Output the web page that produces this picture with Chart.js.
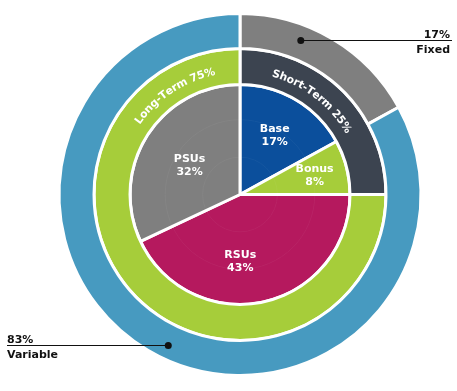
<!DOCTYPE html>
<html>
<head>
<meta charset="utf-8">
<script src="https://cdn.jsdelivr.net/npm/chart.js@4.4.0/dist/chart.umd.min.js"></script>
<style>
  body { margin: 0; background: #fff; }
</style>
</head>
<body>
<canvas id="myChart" width="457" height="391"></canvas>
<script>
// Outer ring: fixed vs variable pay.
const payTypeLabels = ['Fixed', 'Variable'];
const payTypeValues = [17, 83];

// Middle ring: short vs long term.
const termLabels = ['Short-Term', 'Long-Term'];
const termValues = [25, 75];

// Inner pie: individual components.
const componentLabels = ['Base', 'Bonus', 'RSUs', 'PSUs'];
const componentValues = [17, 8, 43, 32];

// Colours for each ring.
const payTypeColors = ['#7f7f7f', '#479ac0'];
const termColors = ['#3c4450', '#a6cd3a'];
const componentColors = ['#0b4f9c', '#a6cd3a', '#b5195e', '#7f7f7f'];

const FONT = '"DejaVu Sans", Verdana, sans-serif';

// Where to put the text on each slice (fraction along the arc, fraction of radius).
const componentLabelPos = [
    { t: 0.5, r: 0.62 },
    { t: 0.5, r: 0.70 },
    { t: 0.58, r: 0.61 },
    { t: 0.48, r: 0.53 }
];
const termLabelPos = [0.41, 0.874];
const payTypeCallouts = [
    { t: 0.35, side: 'right' },
    { t: 0.483, side: 'left' }
];

function arcPoint(arc, t, r) {
    const a = arc.startAngle + (arc.endAngle - arc.startAngle) * t;
    return { x: arc.x + r * Math.cos(a), y: arc.y + r * Math.sin(a), a: a };
}

// Draws text following a circle, centred at angle a.
function drawCurvedText(ctx, text, cx, cy, radius, a) {
    const total = ctx.measureText(text).width;
    let ang = a - total / (2 * radius);
    for (const ch of text) {
        const w = ctx.measureText(ch).width;
        const mid = ang + (w / 2) / radius;
        ctx.save();
        ctx.translate(cx + radius * Math.cos(mid), cy + radius * Math.sin(mid));
        ctx.rotate(mid + Math.PI / 2);
        ctx.fillText(ch, 0, 0);
        ctx.restore();
        ang += w / radius;
    }
}

const labelPlugin = {
    id: 'labelPlugin',
    afterDatasetsDraw(chart) {
        const ctx = chart.ctx;

        // faint rings inside the pie
        const inner = chart.getDatasetMeta(2).data;
        const c0 = inner[0];
        ctx.save();
        ctx.beginPath();
        ctx.arc(c0.x, c0.y, c0.outerRadius - 2, 0, Math.PI * 2);
        ctx.clip();
        ctx.strokeStyle = 'rgba(255,255,255,0.045)';
        ctx.lineWidth = 1;
        [0.34, 0.68].forEach(f => {
            ctx.beginPath();
            ctx.arc(c0.x, c0.y, c0.outerRadius * f, 0, Math.PI * 2);
            ctx.stroke();
        });
        ctx.restore();

        // inner pie labels
        ctx.save();
        ctx.fillStyle = '#fff';
        ctx.font = 'bold 11px ' + FONT;
        ctx.textAlign = 'center';
        ctx.textBaseline = 'middle';
        inner.forEach((arc, i) => {
            const p = arcPoint(arc, componentLabelPos[i].t, arc.outerRadius * componentLabelPos[i].r);
            ctx.fillText(componentLabels[i], p.x, p.y - 6.5);
            ctx.fillText(componentValues[i] + '%', p.x, p.y + 6.5);
        });
        ctx.restore();

        // curved labels on the middle ring
        const mid = chart.getDatasetMeta(1).data;
        ctx.save();
        ctx.fillStyle = '#fff';
        ctx.font = 'bold 10.8px ' + FONT;
        ctx.textAlign = 'center';
        ctx.textBaseline = 'middle';
        mid.forEach((arc, i) => {
            const r = (arc.innerRadius + arc.outerRadius) / 2 - 3;
            const p = arcPoint(arc, termLabelPos[i], r);
            drawCurvedText(ctx, termLabels[i] + ' ' + termValues[i] + '%', arc.x, arc.y, r, p.a);
        });
        ctx.restore();

        // callouts for the outer ring
        const outer = chart.getDatasetMeta(0).data;
        ctx.save();
        ctx.fillStyle = '#111';
        ctx.strokeStyle = '#111';
        ctx.lineWidth = 1.2;
        ctx.font = 'bold 11px ' + FONT;
        outer.forEach((arc, i) => {
            const c = payTypeCallouts[i];
            const r = (arc.innerRadius + arc.outerRadius) / 2 + 3;
            const p = arcPoint(arc, c.t, r);
            const y = Math.round(p.y) + 0.5;
            const endX = c.side === 'right' ? chart.width - 5 : 7;
            ctx.beginPath();
            ctx.moveTo(p.x, y);
            ctx.lineTo(endX, y);
            ctx.stroke();
            ctx.beginPath();
            ctx.arc(p.x, y, 3.5, 0, Math.PI * 2);
            ctx.fill();
            ctx.textAlign = c.side === 'right' ? 'right' : 'left';
            const tx = c.side === 'right' ? endX - 2 : endX;
            ctx.textBaseline = 'alphabetic';
            ctx.fillText(payTypeValues[i] + '%', tx, y - 3);
            ctx.fillText(payTypeLabels[i], tx, y + 12);
        });
        ctx.restore();
    }
};

const ctx = document.getElementById('myChart').getContext('2d');
const chart = new Chart(ctx, {
    type: 'doughnut',
    data: {
        labels: componentLabels,
        datasets: [
            {
                label: 'Pay type',
                data: payTypeValues,
                backgroundColor: payTypeColors,
                borderColor: '#fff',
                borderWidth: 3,
                weight: 35
            },
            {
                label: 'Term',
                data: termValues,
                backgroundColor: termColors,
                borderColor: '#fff',
                borderWidth: 3,
                weight: 36
            },
            {
                label: 'Component',
                data: componentValues,
                backgroundColor: componentColors,
                borderColor: '#fff',
                borderWidth: 3,
                weight: 110
            }
        ]
    },
    options: {
        responsive: false,
        animation: false,
        cutout: 0,
        hoverOffset: 0,
        layout: {
            padding: { left: 35, right: 12, top: 12, bottom: 14 }
        },
        plugins: {
            legend: { display: false },
            tooltip: { enabled: false }
        }
    },
    plugins: [labelPlugin]
});
</script>
</body>
</html>
